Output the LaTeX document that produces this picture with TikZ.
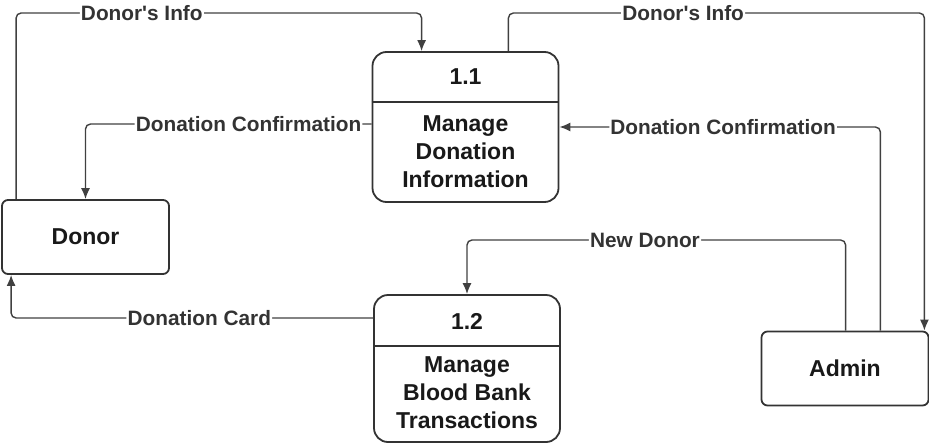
\documentclass[tikz,border=0pt]{standalone}
\usepackage{fontspec}
\setmainfont{Liberation Sans}
\usetikzlibrary{arrows.meta}

\tikzset{
	ent/.style={draw=black!80, line width=0.9pt, rounded corners=3pt, minimum width=83.5pt, minimum height=37pt, inner sep=0pt},
	proc/.style={draw=black!80, line width=0.9pt, rounded corners=7pt, minimum width=93pt, inner sep=0pt},
	boxtxt/.style={font=\bfseries\fontsize{11.5}{14}\selectfont, align=center, text=black!90},
	flowlbl/.style={fill=white, inner sep=0.6pt, font=\bfseries\fontsize{10.4}{12}\selectfont, text=black!80},
	flow/.style={draw=black!75, line width=0.7pt, rounded corners=2.5pt, -{Latex[length=5.5pt, width=4.5pt]}}
}

\begin{document}
\begin{tikzpicture}[x=0.5pt, y=-0.5pt]
		\useasboundingbox (0,0) rectangle (929,444);

		% external entities
		\node[ent, boxtxt] (don) at (85.5,237) {Donor};
		\node[ent, boxtxt] (adm) at (845,368.5) {Admin};

		% processes
		\node[proc, minimum height=75pt] (p1) at (465.5,127) {};
		\node[boxtxt] (p1num) at (465.5,77) {1.1};
		\node[boxtxt] (p1txt) at (465.5,152) {Manage\\Donation\\Information};
		\draw[black!80, line width=0.9pt] (p1.west |- 0,102) -- (p1.east |- 0,102);

		\node[proc, minimum height=73.5pt] (p2) at (467,368.5) {};
		\node[boxtxt] (p2num) at (467,321) {1.2};
		\node[boxtxt] (p2txt) at (467,393) {Manage\\Blood Bank\\Transactions};
		\draw[black!80, line width=0.9pt] (p2.west |- 0,346) -- (p2.east |- 0,346);

		% rows for the bends
		\coordinate (top) at (0,13);
		\coordinate (mid) at (0,240);

		% data flows
		\draw[flow] ([xshift=7.5pt]don.north west) -- ([xshift=7.5pt]don.north west |- top)
			-| node[flowlbl, pos=0.155] {Donor\textquotesingle s Info} ([xshift=25pt]p1.north west);
		\draw[flow] ([yshift=1.5pt]p1.west) -| node[flowlbl, pos=0.215] {Donation Confirmation} (don.north);
		\draw[flow] ([xshift=-25.5pt]p1.north east) -- ([xshift=-25.5pt]p1.north east |- top)
			-| node[flowlbl, pos=0.21] {Donor\textquotesingle s Info} ([xshift=-2.5pt]adm.north east);
		\draw[flow] ([xshift=-24.5pt]adm.north east) |- node[flowlbl, pos=0.745] {Donation Confirmation} (p1.east);
		\draw[flow] ([xshift=42.5pt]adm.north west) -- ([xshift=42.5pt]adm.north west |- mid)
			-| node[flowlbl, pos=0.265] {New Donor} (p2.north);
		\draw[flow] ([yshift=25.25pt]p2.west) -| node[flowlbl, pos=0.24] {Donation Card} ([xshift=5pt]don.south west);
	\end{tikzpicture}
\end{document}
